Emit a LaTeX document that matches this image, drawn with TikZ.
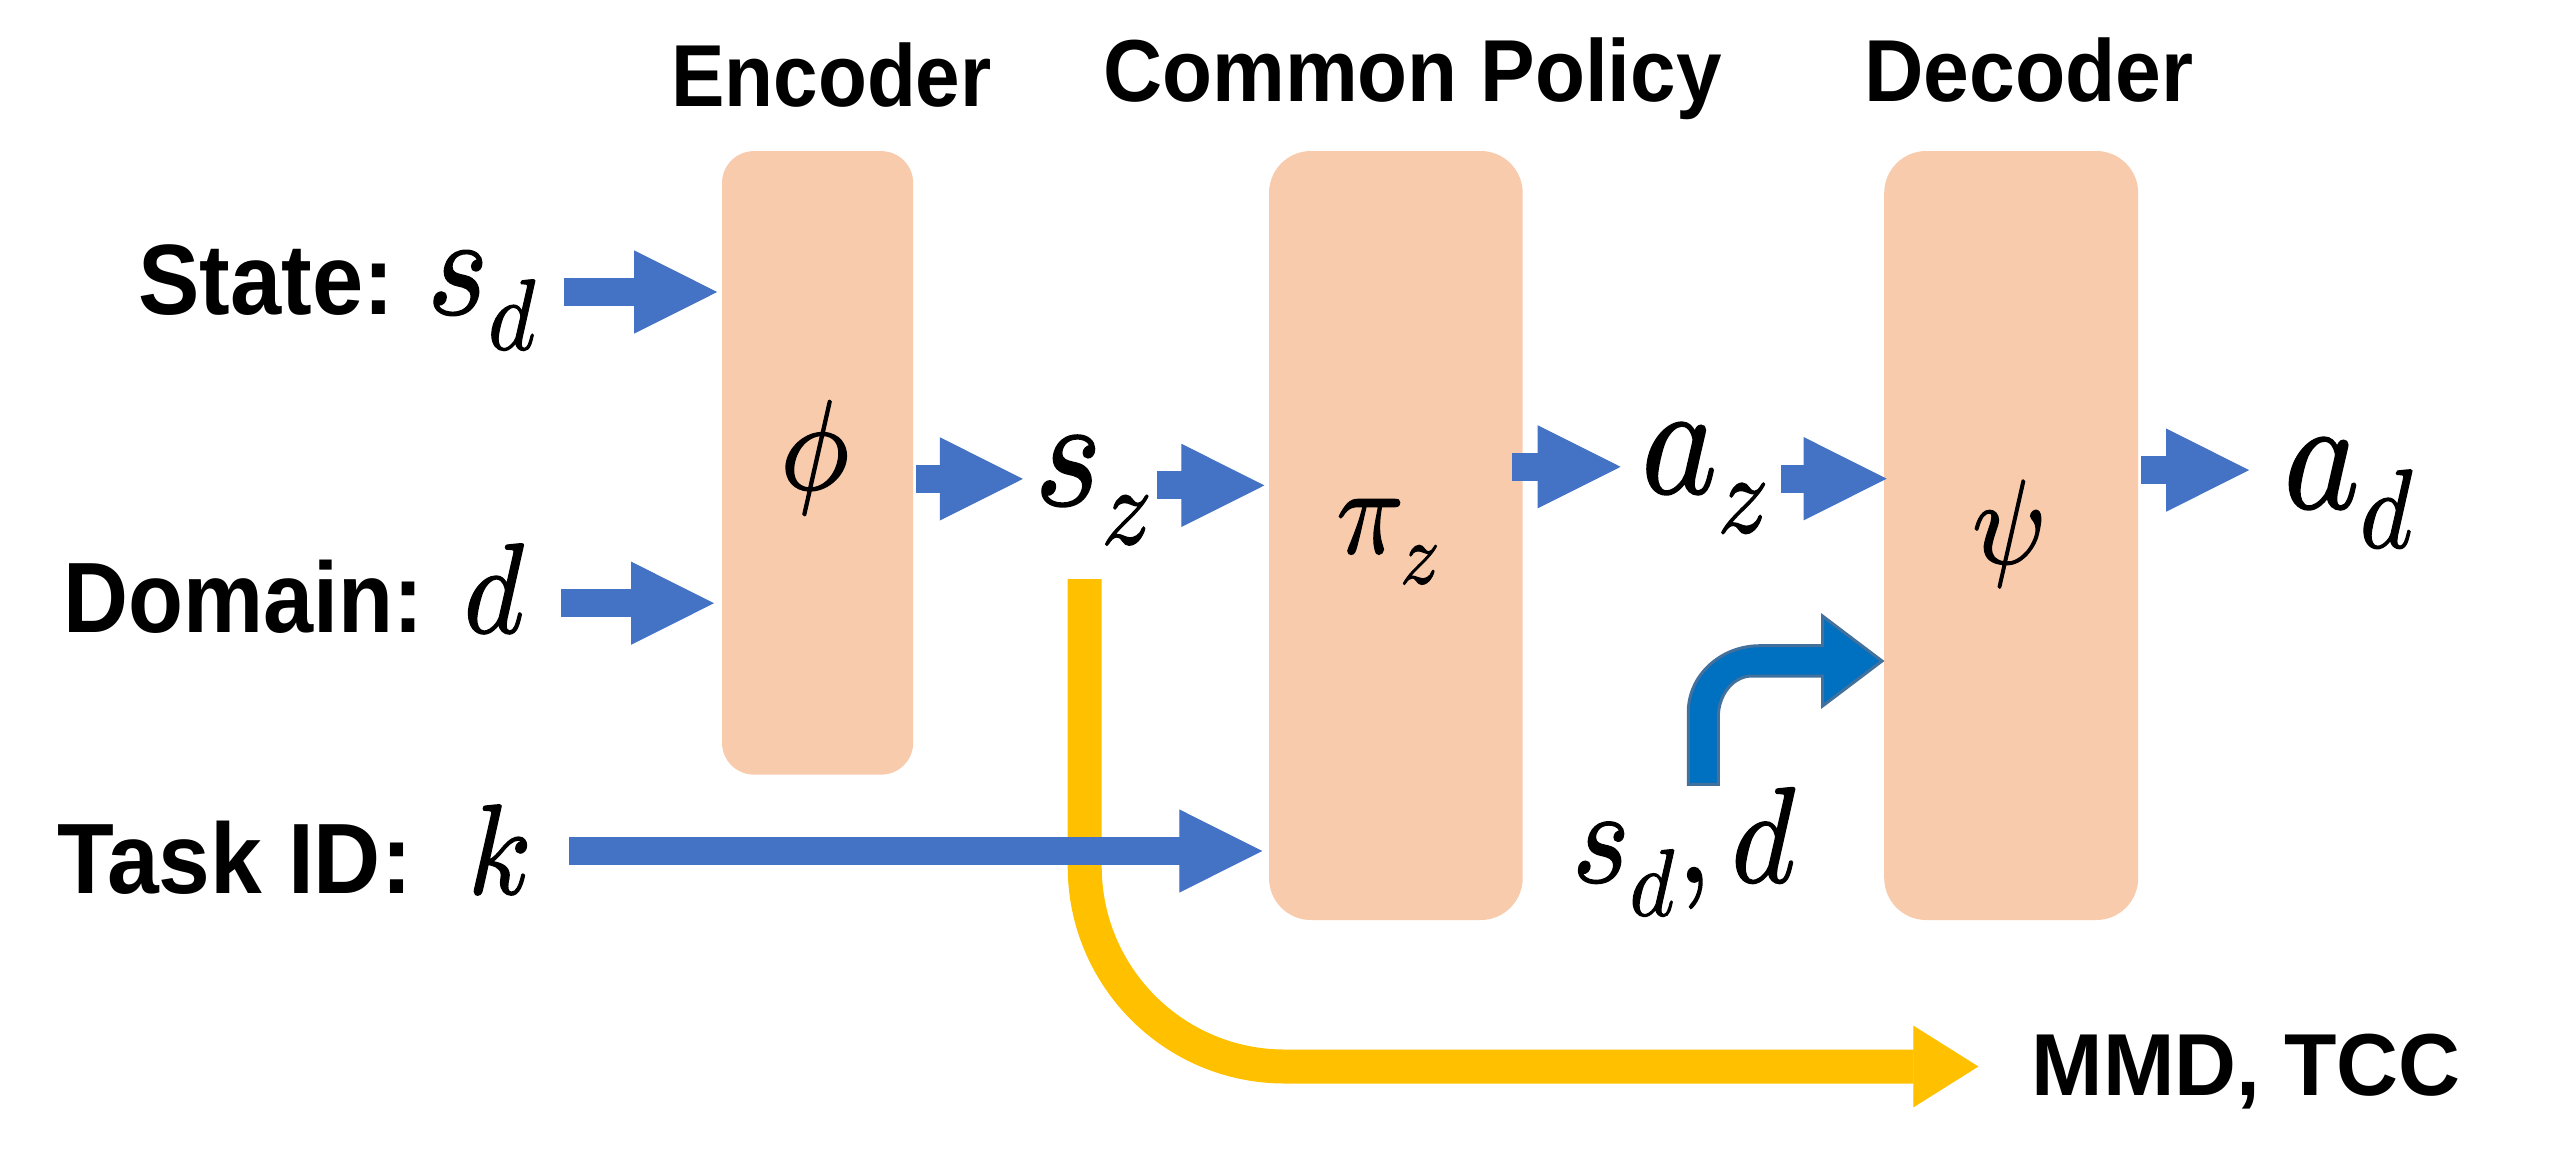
\documentclass[tikz,border=0pt]{standalone}
\usepackage{graphicx}
\usepackage{fontspec}
\usepackage{unicode-math}
\setmathfont{Latin Modern Math}[FakeBold=1.2]
\newfontfamily\hfont{Liberation Sans}
\usetikzlibrary{arrows.meta}
\definecolor{peach}{HTML}{F8CBAD}
\definecolor{arrblue}{HTML}{4472C4}
\definecolor{gold}{HTML}{FFC000}
\definecolor{bentfill}{HTML}{0070C0}
\definecolor{bentline}{HTML}{41719C}
\newcommand{\HeadTxt}[2]{\scalebox{#1}[1]{#2}}
\newcommand{\MathTxt}[2]{{\fontsize{#1}{#1}\selectfont\scalebox{0.9}[1]{$#2$}}}
\tikzset{
  box/.style={fill=peach, draw=none, inner sep=0pt, outer sep=0pt},
  headtxt/.style={font=\hfont\bfseries\fontsize{44pt}{50pt}\selectfont, inner sep=0pt, anchor=base},
  labtxt/.style={font=\hfont\bfseries\fontsize{50pt}{56pt}\selectfont, inner sep=0pt, anchor=base west},
  mathlbl/.style={inner sep=0pt, anchor=base west},
  blk/.style={line width=14pt, draw=arrblue, -{Triangle[length=41.5pt,width=41.5pt,line width=0.5pt]}},
  yel/.style={line width=17pt, draw=gold, -{Triangle[length=32.5pt,width=40.75pt,line width=0.5pt]}},
  bent/.style={fill=bentfill, draw=bentline, line width=1.5pt, line join=miter}
}
\begin{document}
\begin{tikzpicture}[x=0.5pt, y=-0.5pt]
\useasboundingbox (0,0) rectangle (2549,1169);

% boxes
\node[box, minimum width=95.6pt, minimum height=311.75pt, rounded corners=16pt] (enc) at (817.6,462.85) {};
\node[box, minimum width=126.85pt, minimum height=384.5pt, rounded corners=21pt] (pol) at (1395.85,535.5) {};
\node[box, minimum width=127pt, minimum height=384.5pt, rounded corners=21pt] (dec) at (2011.2,535.5) {};

% headings
\node[headtxt] (hEnc) at (831.4,106.4) {\HeadTxt{0.91}{Encoder}};
\node[headtxt] (hPol) at (1412.4,101.4) {\HeadTxt{0.93}{Common Policy}};
\node[headtxt] (hDec) at (2029.1,101.4) {\HeadTxt{0.935}{Decoder}};
\node[headtxt, anchor=base west] (mmd) at (2031.2,1095.4) {\HeadTxt{0.975}{MMD, TCC}};

% input labels
\node[labtxt] (lState) at (138.2,314) {\HeadTxt{0.92}{State:}};
\node[labtxt] (lDom) at (63.4,632.6) {\HeadTxt{0.9}{Domain:}};
\node[labtxt] (lTask) at (56.9,893.7) {\HeadTxt{0.93}{Task ID:}};

% math
\node[mathlbl] (mSd) at (426.9,314) {\MathTxt{72pt}{s_d}};
\node[mathlbl] (mD) at (463.5,632.6) {\MathTxt{64pt}{d}};
\node[mathlbl] (mK) at (467.6,893.7) {\MathTxt{64pt}{k}};
\node[inner sep=0pt] (mPhi) at (815,458) {\MathTxt{64pt}{\phi}};
\node[mathlbl] (mSz) at (1034.3,505) {\MathTxt{79pt}{s_z}};
\node[mathlbl] (mPi) at (1336,552.9) {\MathTxt{62pt}{\pi_z}};
\node[mathlbl] (mAz) at (1640.9,493) {\MathTxt{80pt}{a_z}};
\node[inner sep=0pt] (mPsi) at (2008,534) {\MathTxt{60pt}{\psi}};
\node[mathlbl] (mAd) at (2283.3,508) {\MathTxt{80pt}{a_d}};
\node[mathlbl] (mSdd) at (1571.8,882) {\MathTxt{68pt}{s_d, d}};

% yellow loss path
\coordinate (yA) at (1084.7,579);
\coordinate (yB) at (1978.4,1066.5);
\draw[yel, rounded corners=100pt] (yA) |- (yB);

% blue arrows
\coordinate (sA) at (564.3,292);
\draw[blk, shorten >=2.4pt] (sA) -- (enc.west |- sA);
\coordinate (dA) at (561.1,603.2);
\draw[blk, shorten >=4pt] (dA) -- (enc.west |- dA);
\coordinate (kA) at (569.2,851);
\draw[blk, shorten >=3.35pt] (kA) -- (pol.west |- kA);
\coordinate (zA) at (1022.9,478.9);
\draw[blk, shorten <=1.6pt] (enc.east |- zA) -- (zA);
\coordinate (zB) at (1157.1,485.4);
\draw[blk, shorten >=2.3pt] (zB) -- (pol.west |- zB);
\coordinate (aA) at (1620.6,466.8);
\draw[blk, shorten <=-5.15pt] (pol.east |- aA) -- (aA);
\coordinate (aB) at (1780.8,478.7);
\draw[blk, shorten >=-1.25pt] (aB) -- (dec.west |- aB);
\coordinate (dB) at (2249.1,470.1);
\draw[blk, shorten <=1.5pt] (dec.east |- dB) -- (dB);

% bent arrow into decoder
\draw[bent] (1688.3,784.3) -- (1688.3,712)
  .. controls (1688.3,675.4) and (1720.4,645.7) .. (1760,645.7)
  -- (1822.5,645.7) -- (1822.5,616) -- (1882,661) -- (1822.5,706) -- (1822.5,676) -- (1752,676)
  .. controls (1733.4,676) and (1718.3,694.4) .. (1718.3,717)
  -- (1718.3,784.3) -- cycle;
\end{tikzpicture}
\end{document}
